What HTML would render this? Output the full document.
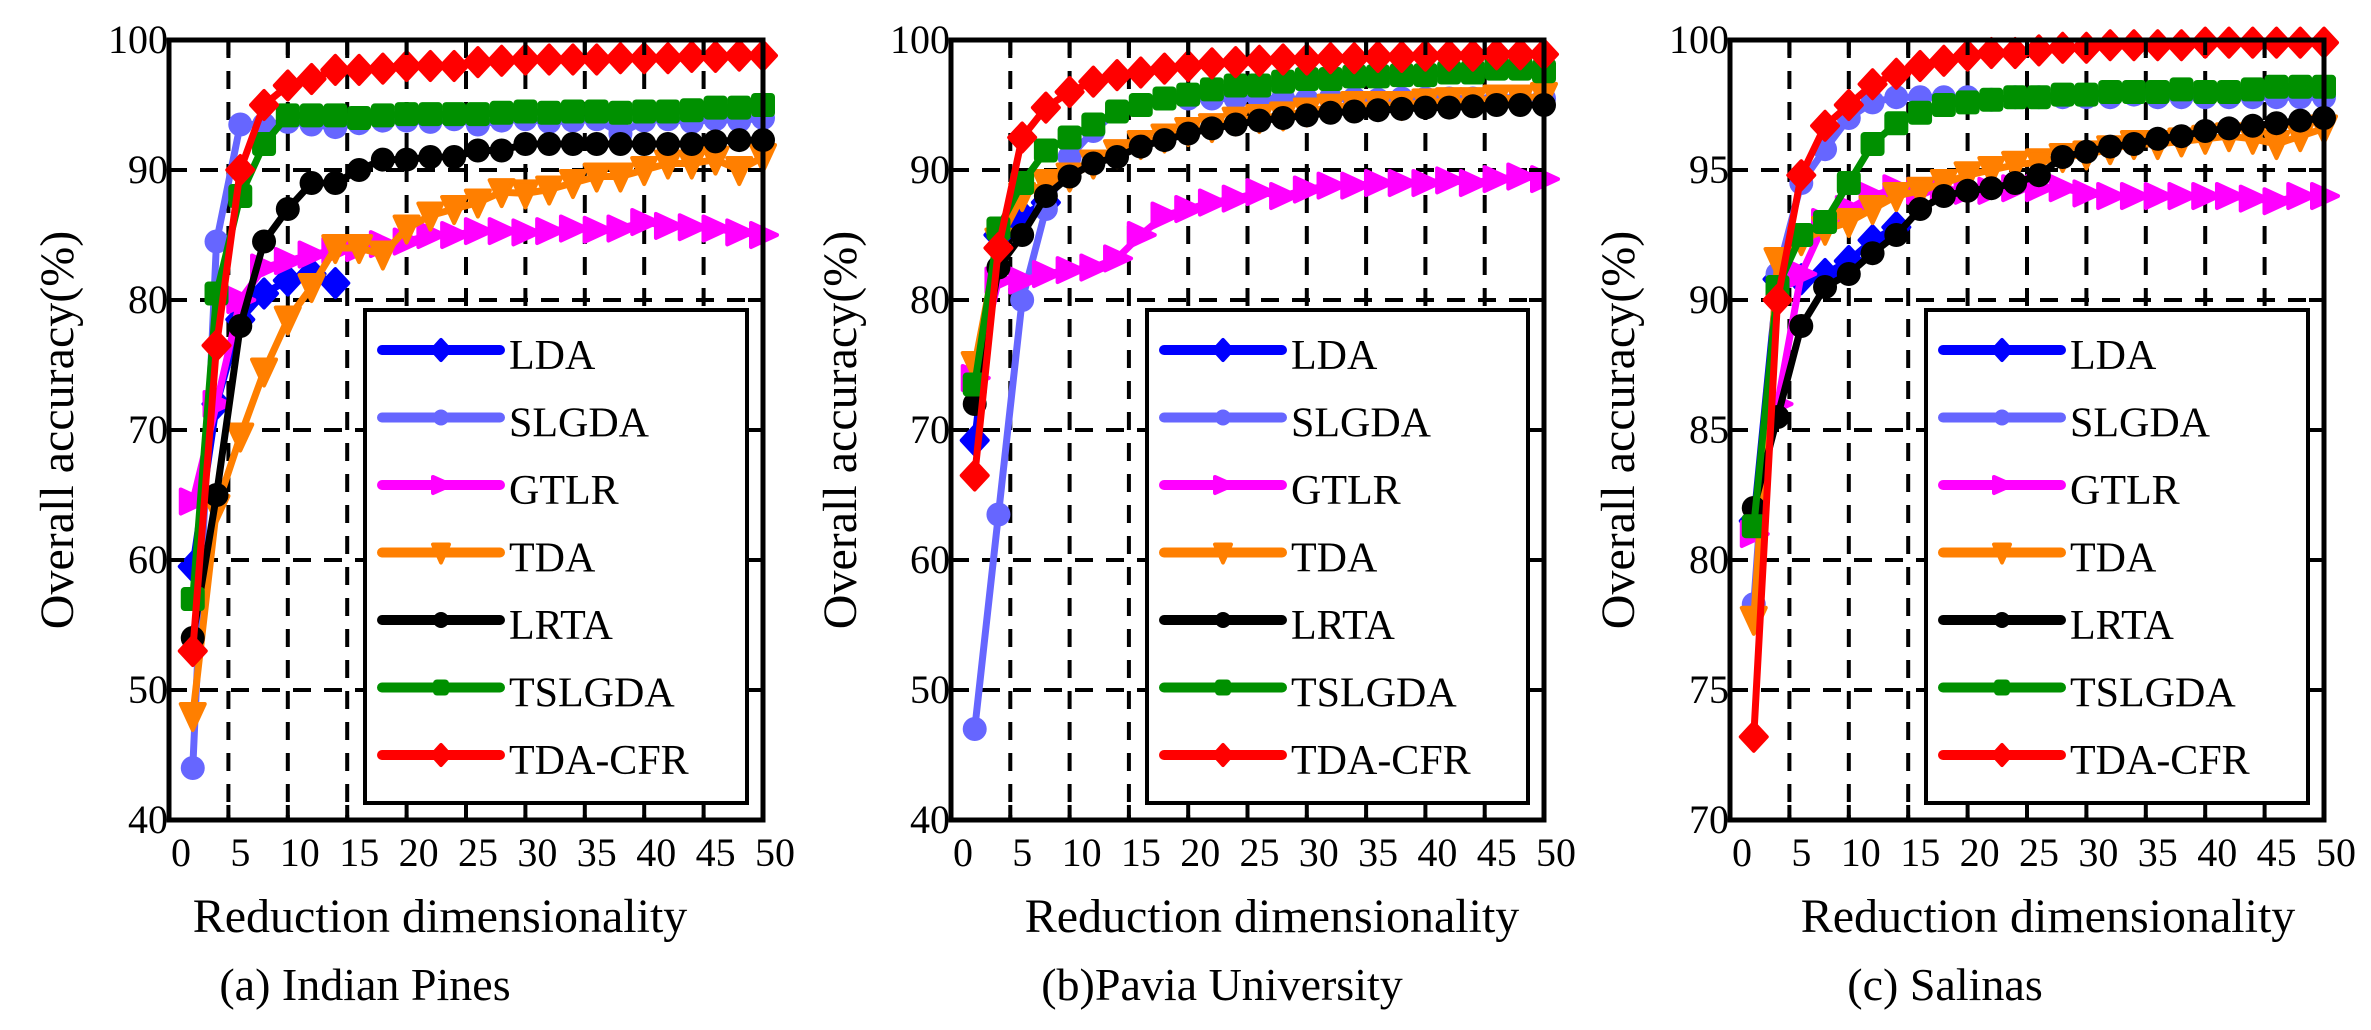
<!DOCTYPE html>
<html><head><meta charset="utf-8"><style>
html,body{margin:0;padding:0;background:#fff;}
svg{display:block;}
svg text{font-family:'Liberation Serif','Times New Roman','DejaVu Serif',serif !important;}
</style></head><body>
<svg id="fig" width="2371" height="1030" viewBox="0 0 2371 1030" xmlns="http://www.w3.org/2000/svg"></svg>
<script>
const methods = ["LDA","SLGDA","GTLR","TDA","LRTA","TSLGDA","TDA-CFR"];
const xsFull = [2,4,6,8,10,12,14,16,18,20,22,24,26,28,30,32,34,36,38,40,42,44,46,48,50];
const xsLdaA = [2,4,6,8,10,12,14];
const xsLdaB = [2,4,6,8];
const xsLdaC = [2,4,6,8,10,12,14];
const xTicks = ["0","5","10","15","20","25","30","35","40","45","50"];
const yTicksAB = ["40","50","60","70","80","90","100"];
const yTicksC = ["70","75","80","85","90","95","100"];

// (a) Indian Pines
const ipLDA    = [59.5,72,78.5,80.5,81.5,82,81.3];
const ipSLGDA  = [44,84.5,93.5,93.5,93.7,93.5,93.3,93.6,93.8,93.8,93.7,93.9,93.5,93.8,93.9,93.7,93.8,93.9,92.8,93.8,93.9,93.7,93.9,93.8,94];
const ipGTLR   = [64.5,72,80,82.5,83,83.5,83.8,84,84.3,84.5,85,85,85.3,85.3,85.2,85.3,85.5,85.4,85.5,86,85.7,85.6,85.5,85.2,85];
const ipTDA    = [48,64,69.5,74.5,78.5,81,84,84,83.5,85.5,86.5,87,87.5,88.3,88.2,88.5,89,89.5,89.5,90,90.5,90.5,90.8,90,91];
const ipLRTA   = [54,65,78,84.5,87,89,89,90,90.8,90.8,91,91,91.5,91.5,92,92,92,92,92,92,92,92,92.2,92.3,92.3];
const ipTSLGDA = [57,80.5,88,92,94.2,94.2,94.2,94,94.2,94.3,94.3,94.3,94.3,94.4,94.5,94.4,94.5,94.5,94.4,94.5,94.5,94.6,94.8,94.8,95];
const ipTDACFR = [53,76.5,90,95,96.5,97,97.7,97.7,97.8,98,98,98,98.3,98.4,98.5,98.5,98.5,98.5,98.6,98.6,98.6,98.7,98.7,98.8,98.8];

// (b) Pavia University
const puLDA    = [69.2,85,86.5,87.5];
const puSLGDA  = [47,63.5,80,87,91,93,94.5,95,95.5,95.5,95.5,95.5,95.5,95.5,95.4,95.5,95.5,95.4,95.5,95.5,95.5,95.5,95.5,95.6,95.5];
const puGTLR   = [74,81.5,81.5,82,82.3,82.5,83.2,85,86.5,87,87.5,87.8,88.3,88,88.5,88.8,88.8,89,89,89,89.2,89,89.3,89.5,89.3];
const puTDA    = [75,84.5,88,89,89.5,90.5,91.3,92,92.5,93,93.3,93.8,94,94.2,94.5,94.8,95,95,95,95.2,95.3,95.3,95.5,95.5,95.7];
const puLRTA   = [72,82.5,85,88,89.5,90.5,91,91.8,92.3,92.8,93.2,93.5,93.8,94,94.2,94.4,94.5,94.6,94.7,94.8,94.8,94.9,95,95,95];
const puTSLGDA = [73.5,85.5,89,91.5,92.5,93.5,94.5,95,95.5,95.8,96.2,96.5,96.5,96.8,97,97,97.2,97.2,97.3,97.3,97.5,97.5,97.8,97.8,97.6];
const puTDACFR = [66.5,84,92.5,94.8,96,96.8,97.3,97.5,97.8,98,98.2,98.3,98.4,98.5,98.5,98.6,98.6,98.7,98.7,98.8,98.8,98.8,98.9,98.9,98.9];

// (c) Salinas
const saLDA    = [81.5,90.8,90.8,91,91.5,92.3,92.8];
const saSLGDA  = [78.3,91,94.5,95.8,97,97.6,97.8,97.8,97.8,97.8,97.7,97.8,97.8,97.8,97.8,97.8,97.9,97.8,97.8,97.8,97.8,97.8,97.8,97.8,97.8];
const saGTLR   = [81,86,91,93,93.5,94,94.3,94.2,94.2,94.2,94.2,94.3,94.3,94.3,94.1,94,94,94,94,94,94,93.9,93.8,94,94];
const saTDA    = [77.7,91.5,92.3,92.7,93,93.5,94,94.2,94.5,94.8,95,95.2,95.3,95.5,95.6,95.8,96,96,96.1,96.2,96.3,96.2,96,96.3,96.6];
const saLRTA   = [82,85.5,89,90.5,91,91.8,92.5,93.5,94,94.2,94.3,94.5,94.8,95.5,95.7,95.9,96,96.2,96.3,96.5,96.6,96.7,96.8,96.9,97];
const saTSLGDA = [81.3,90.5,92.5,93,94.5,96,96.8,97.2,97.5,97.6,97.7,97.8,97.8,97.9,97.9,98,98,98,98.1,98,98,98.1,98.2,98.2,98.2];
const saTDACFR = [73.2,90,94.8,96.7,97.5,98.3,98.7,99,99.2,99.4,99.5,99.5,99.6,99.7,99.7,99.8,99.8,99.8,99.8,99.9,99.9,99.9,99.9,99.9,99.9];

const colors = ["#0000ff","#6666ff","#ff00ff","#ff7f00","#000000","#009000","#ff0000"];
const markers = ["diamond","circle","triangleR","triangleD","circle","square","diamond"];

const NS = "http://www.w3.org/2000/svg";
const svg = document.getElementById("fig");
function mk(tag, attrs, parent){
  const e = document.createElementNS(NS, tag);
  for (const k in attrs) e.setAttribute(k, attrs[k]);
  (parent||svg).appendChild(e);
  return e;
}
const FS = "font-family:'Liberation Serif','Times New Roman','DejaVu Serif',serif";

const panels = [
  {key:"indian-pines", left:169, right:763, top:40, bottom:820, ymin:40, ymax:100, yTicks:yTicksAB,
   series:[[xsLdaA,ipLDA],[xsFull,ipSLGDA],[xsFull,ipGTLR],[xsFull,ipTDA],[xsFull,ipLRTA],[xsFull,ipTSLGDA],[xsFull,ipTDACFR]],
   ytitleX:57, xlabelX:440, caption:"(a) Indian Pines", captionX:365},
  {key:"pavia-university", left:951, right:1544, top:40, bottom:820, ymin:40, ymax:100, yTicks:yTicksAB,
   series:[[xsLdaB,puLDA],[xsFull,puSLGDA],[xsFull,puGTLR],[xsFull,puTDA],[xsFull,puLRTA],[xsFull,puTSLGDA],[xsFull,puTDACFR]],
   ytitleX:840, xlabelX:1272, caption:"(b)Pavia University", captionX:1222},
  {key:"salinas", left:1730, right:2324, top:40, bottom:820, ymin:70, ymax:100, yTicks:yTicksC,
   series:[[xsLdaC,saLDA],[xsFull,saSLGDA],[xsFull,saGTLR],[xsFull,saTDA],[xsFull,saLRTA],[xsFull,saTSLGDA],[xsFull,saTDACFR]],
   ytitleX:1618, xlabelX:2048, caption:"(c)  Salinas", captionX:1945}
];

function drawMarker(g, type, cx, cy, color, r){
  let m;
  if (type === "circle") m = mk("circle",{cx:cx,cy:cy,r:r,fill:color},g);
  else if (type === "square") m = mk("rect",{x:cx-r,y:cy-r,width:2*r,height:2*r,rx:4,fill:color},g);
  else if (type === "diamond") m = mk("polygon",{points:`${cx},${cy-r-2} ${cx+r+1},${cy} ${cx},${cy+r+2} ${cx-r-1},${cy}`,fill:color,stroke:color,"stroke-width":4,"stroke-linejoin":"round"},g);
  else if (type === "triangleR") m = mk("polygon",{points:`${cx-r},${cy-r} ${cx+r+2},${cy} ${cx-r},${cy+r}`,fill:color,stroke:color,"stroke-width":4,"stroke-linejoin":"round"},g);
  else m = mk("polygon",{points:`${cx-r},${cy-r} ${cx+r},${cy-r} ${cx},${cy+r+2}`,fill:color,stroke:color,"stroke-width":4,"stroke-linejoin":"round"},g);
  
  
}
function txt(parent, attrs, s){
  const t = mk("text", attrs, parent);
  t.setAttribute("style", FS);
  t.textContent = s;
  return t;
}

panels.forEach(p => {
  const g = mk("g",{});
  
  
  const sx = v => p.left + v / 50 * (p.right - p.left);
  const sy = v => p.bottom - (v - p.ymin) / (p.ymax - p.ymin) * (p.bottom - p.top);

  const grid = mk("g",{stroke:"#000","stroke-width":4,"stroke-dasharray":"18 13",fill:"none"},g);
  
  
  for (let i = 1; i < xTicks.length - 1; i++) {
    const x = sx(+xTicks[i]);
    mk("line",{x1:x,y1:p.top,x2:x,y2:p.bottom},grid);
  }
  for (let i = 1; i < p.yTicks.length - 1; i++) {
    const y = sy(+p.yTicks[i]);
    mk("line",{x1:p.left,y1:y,x2:p.right,y2:y},grid);
  }

  p.series.forEach((s, k) => {
    const sg = mk("g",{},g);
    
    
    const pts = s[0].map((x,i) => sx(x)+","+sy(s[1][i])).join(" ");
    mk("polyline",{points:pts,fill:"none",stroke:colors[k],"stroke-width":7,"stroke-linejoin":"round","stroke-linecap":"round"},sg);
    s[0].forEach((x,i) => drawMarker(sg, markers[k], sx(x), sy(s[1][i]), colors[k], 12));
  });

  const lg = mk("g",{},g);
  
  
  const lx = p.left + 196, lw = (p.right - 16) - lx, ly = 310, lh = 493;
  mk("rect",{x:lx,y:ly,width:lw,height:lh,fill:"#fff",stroke:"#000","stroke-width":4},lg);
  methods.forEach((m,k) => {
    const e = mk("g",{},lg);
    
    
    const yy = 350 + k * 67.5;
    mk("line",{x1:lx+17,y1:yy,x2:lx+135,y2:yy,stroke:colors[k],"stroke-width":10,"stroke-linecap":"round"},e);
    drawMarker(e, markers[k], lx+76, yy, colors[k], 8);
    txt(e, {x:lx+144,y:yy+19,"font-size":42}, m);
  });

  const ax = mk("rect",{x:p.left,y:p.top,width:p.right-p.left,height:p.bottom-p.top,fill:"none",stroke:"#000","stroke-width":5},g);
  
  
  const tk = mk("g",{stroke:"#000","stroke-width":4},g);
  
  
  xTicks.forEach(t => {
    const x = sx(+t);
    mk("line",{x1:x,y1:p.bottom,x2:x,y2:p.bottom-15},tk);
    mk("line",{x1:x,y1:p.top,x2:x,y2:p.top+15},tk);
    const lab = txt(g, {x:x+12,y:p.bottom+46,"font-size":40,"text-anchor":"middle"}, t);
    
    
  });
  p.yTicks.forEach(t => {
    const y = sy(+t);
    mk("line",{x1:p.left,y1:y,x2:p.left+15,y2:y},tk);
    mk("line",{x1:p.right,y1:y,x2:p.right-15,y2:y},tk);
    const lab = txt(g, {x:p.left-1,y:y+13,"font-size":40,"text-anchor":"end"}, t);
    
    
  });

  const cy = (p.top + p.bottom) / 2;
  const yt = txt(g, {x:p.ytitleX,y:cy+16,"font-size":48,"text-anchor":"middle",transform:`rotate(-90 ${p.ytitleX} ${cy})`}, "Overall accuracy(%)");
  
  
  const xt = txt(g, {x:p.xlabelX,y:932,"font-size":48,"text-anchor":"middle"}, "Reduction dimensionality");
  
  
  const cap = txt(g, {x:p.captionX,y:1000,"font-size":46,"text-anchor":"middle"}, p.caption);
  
  
});
</script>
</body></html>
